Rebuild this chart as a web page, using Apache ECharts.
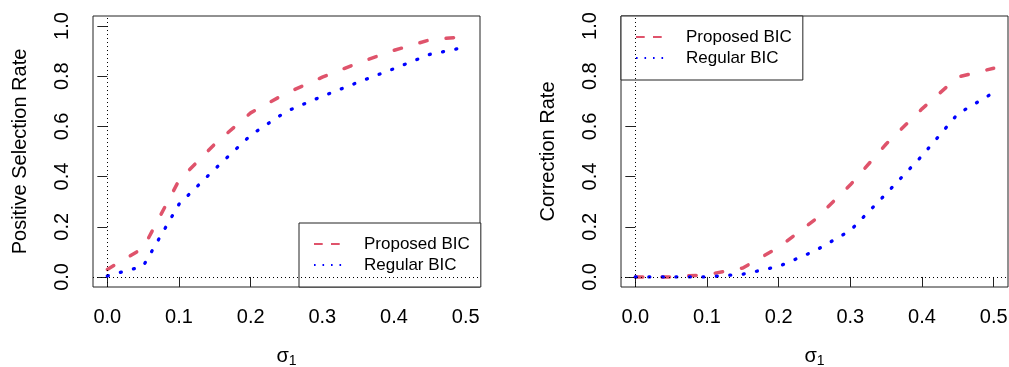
<!DOCTYPE html>
<html>
<head>
<meta charset="utf-8">
<script src="https://cdn.jsdelivr.net/npm/echarts@6/dist/echarts.min.js"></script>
<style>
html,body{margin:0;padding:0;background:#fff;}
#chart{width:1009px;height:367px;}
</style>
</head>
<body>
<div id="chart"></div>
<script>
// ---- data ----
const sigma = [0, 0.05, 0.1, 0.15, 0.2, 0.25, 0.3, 0.35, 0.4, 0.45, 0.5];
const posProposed = [0.03, 0.115, 0.385, 0.53, 0.654, 0.733, 0.796, 0.853, 0.903, 0.945, 0.958];
const posRegular  = [0.004, 0.043, 0.29, 0.43, 0.565, 0.66, 0.72, 0.776, 0.83, 0.887, 0.916];
const corrProposed = [0, 0, 0.009, 0.036, 0.118, 0.227, 0.367, 0.53, 0.67, 0.797, 0.832];
const corrRegular  = [0, 0, 0, 0.011, 0.042, 0.103, 0.185, 0.332, 0.483, 0.65, 0.735];
const xTicks = [0, 0.1, 0.2, 0.3, 0.4, 0.5];
const yTicks = [0, 0.2, 0.4, 0.6, 0.8, 1.0];
const seriesNames = ['Proposed BIC', 'Regular BIC'];
const yTitles = ['Positive Selection Rate', 'Correction Rate'];
const xTitle = '{s|σ}{sub|1}';

const FONT = '"Liberation Sans", Arial, Helvetica, sans-serif';
const RED = '#DF536B', BLUE = '#0000FF';

function pairs(xs, ys) { return xs.map((x, i) => [x, ys[i]]); }

function xAxisFor(i) {
  return {
    type: 'value', gridIndex: i, min: -0.02, max: 0.52,
    axisLine: { show: false }, splitLine: { show: false },
    axisTick: { show: true, length: 10, customValues: xTicks, lineStyle: { color: '#222', width: 1 } },
    axisLabel: { customValues: xTicks, formatter: v => v.toFixed(1), fontSize: 20, color: '#000', margin: 20, fontFamily: FONT },
    name: xTitle, nameLocation: 'middle', nameGap: 58,
    nameTextStyle: { fontFamily: FONT, color: '#000', rich: {
      s: { fontSize: 20, fontFamily: FONT, color: '#000' },
      sub: { fontSize: 14, fontFamily: FONT, color: '#000', padding: [9, 0, 0, 0] }
    } }
  };
}
function yAxisFor(i) {
  return {
    type: 'value', gridIndex: i, min: -0.04, max: 1.04,
    axisLine: { show: false }, splitLine: { show: false },
    axisTick: { show: true, length: 10, customValues: yTicks, lineStyle: { color: '#222', width: 1 } },
    axisLabel: { customValues: yTicks, formatter: v => v.toFixed(1), fontSize: 20, color: '#000', margin: 21, rotate: 90, fontFamily: FONT },
    name: yTitles[i], nameLocation: 'middle', nameGap: 63,
    nameTextStyle: { fontSize: 20, color: '#000', fontFamily: FONT }
  };
}
const refLines = {
  silent: true, symbol: ['none', 'none'], label: { show: false },
  lineStyle: { type: [1, 3], color: '#000', width: 1 },
  emphasis: { disabled: true },
  data: [{ xAxis: 0 }, { yAxis: 0 }]
};
function redSeries(i, ys) {
  return { name: seriesNames[0], type: 'line', xAxisIndex: i, yAxisIndex: i, data: pairs(sigma, ys),
    symbol: 'none', lineStyle: { color: RED, width: 3.5, type: [7.5, 19.2], cap: 'round' }, itemStyle: { color: RED },
    markLine: refLines, z: 3 };
}
function blueSeries(i, ys) {
  return { name: seriesNames[1], type: 'line', xAxisIndex: i, yAxisIndex: i, data: pairs(sigma, ys),
    symbol: 'none', lineStyle: { color: BLUE, width: 3.3, type: [1, 12.5], cap: 'round' }, itemStyle: { color: BLUE }, z: 3 };
}
const hiddenMarker = { color: 'rgba(0,0,0,0)', borderWidth: 0, opacity: 0 };
function legendFor(left, top) {
  return {
    orient: 'vertical', left: left, top: top,
    backgroundColor: '#fff', borderColor: '#222', borderWidth: 1, borderRadius: 0,
    padding: [12, 11, 13, 14], itemGap: 3, itemWidth: 45, itemHeight: 14,
    textStyle: { fontSize: 17, color: '#000', fontFamily: FONT, lineHeight: 18 },
    selectedMode: false,
    data: [
      { name: seriesNames[0], itemStyle: hiddenMarker, lineStyle: { type: [8.7, 8.3, 8.7, 100], width: 2, cap: 'butt', color: RED } },
      { name: seriesNames[1], itemStyle: hiddenMarker, lineStyle: { type: [1.6, 6.9, 1.6, 6.9, 1.6, 6.9, 1.6, 100], width: 2, cap: 'butt', color: BLUE } }
    ]
  };
}

const chart = echarts.init(document.getElementById('chart'), null, { renderer: 'canvas' });
chart.setOption({
  animation: false,
  backgroundColor: '#fff',
  textStyle: { fontFamily: FONT },
  grid: [
    { left: 93, top: 16, width: 387, height: 271, show: true, borderColor: '#222', borderWidth: 1, backgroundColor: 'transparent', outerBoundsMode: 'none', containLabel: false },
    { left: 621, top: 16, width: 387, height: 271, show: true, borderColor: '#222', borderWidth: 1, backgroundColor: 'transparent', outerBoundsMode: 'none', containLabel: false }
  ],
  xAxis: [xAxisFor(0), xAxisFor(1)],
  yAxis: [yAxisFor(0), yAxisFor(1)],
  legend: [legendFor(299, 223), legendFor(621, 16)],
  series: [
    redSeries(0, posProposed), blueSeries(0, posRegular),
    redSeries(1, corrProposed), blueSeries(1, corrRegular)
  ]
});
</script>
</body>
</html>
